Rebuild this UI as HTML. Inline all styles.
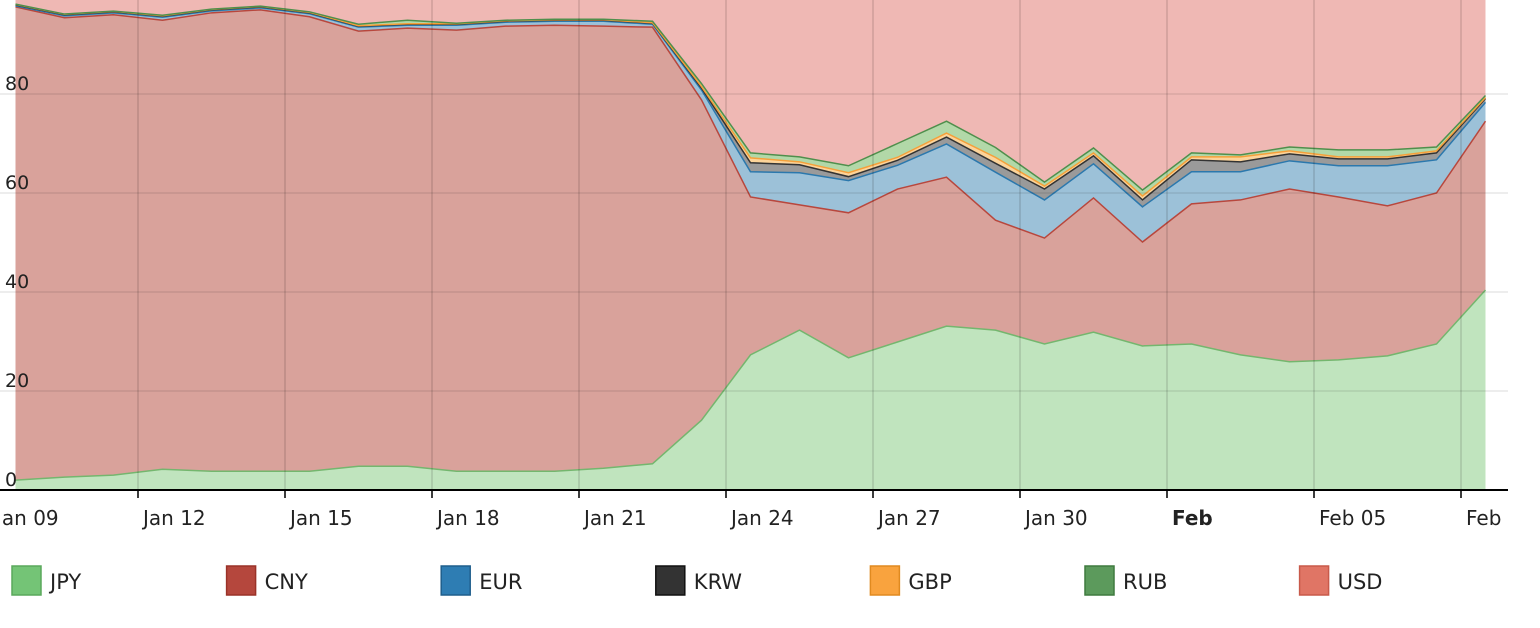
<!DOCTYPE html>
<html><head><meta charset="utf-8"><style>
body{margin:0;background:#fff;width:1540px;height:624px;overflow:hidden;font-family:"DejaVu Sans",sans-serif}
svg text{font-family:"DejaVu Sans","Liberation Sans",sans-serif}
</style></head><body>
<svg id="chart" width="1540" height="624" viewBox="0 0 1540 624">
<defs><clipPath id="lblclip"><rect x="0" y="0" width="1508" height="624"/></clipPath></defs>
</svg>
<script>
const categories = ["Jan 09","Jan 10","Jan 11","Jan 12","Jan 13","Jan 14","Jan 15","Jan 16","Jan 17","Jan 18","Jan 19","Jan 20","Jan 21","Jan 22","Jan 23","Jan 24","Jan 25","Jan 26","Jan 27","Jan 28","Jan 29","Jan 30","Jan 31","Feb 01","Feb 02","Feb 03","Feb 04","Feb 05","Feb 06","Feb 07","Feb 08"];
const jpy = [2.0,2.6,3.0,4.2,3.8,3.8,3.8,4.8,4.8,3.8,3.8,3.8,4.4,5.3,14.1,27.3,32.3,26.7,29.9,33.1,32.3,29.5,31.9,29.1,29.5,27.3,25.9,26.3,27.1,29.5,40.4];
const cny = [95.6,92.8,93.0,90.7,92.6,93.2,91.8,87.9,88.5,89.1,89.9,90.1,89.3,88.2,64.7,31.9,25.3,29.3,30.9,30.1,22.2,21.4,27.1,21.0,28.3,31.3,34.9,32.9,30.3,30.5,34.1];
const eur = [0.2,0.4,0.4,0.6,0.4,0.4,0.6,0.8,0.6,1.0,0.8,0.8,1.0,0.6,2.0,5.1,6.5,6.5,4.8,6.7,9.7,7.7,6.9,7.1,6.5,5.7,5.7,6.3,8.1,6.7,3.8];
const krw = [0.2,0.2,0.2,0.2,0.2,0.2,0.2,0.2,0.2,0.2,0.2,0.2,0.2,0.2,0.4,1.8,1.6,0.8,1.0,1.4,1.8,2.2,1.6,1.4,2.4,2.0,1.4,1.4,1.4,1.4,0.8];
const gbp = [0.1,0.1,0.1,0.1,0.1,0.1,0.1,0.1,0.1,0.1,0.1,0.1,0.1,0.1,0.3,1.0,0.6,0.8,0.6,0.8,1.2,0.6,0.6,0.8,0.6,1.0,0.6,0.4,0.4,0.4,0.2];
const rub = [0.05,0.05,0.05,0.1,0.05,0.05,0.1,0.3,0.7,0.1,0.1,0.1,0.1,0.3,0.6,1.0,1.0,1.4,2.8,2.4,2.0,0.8,1.0,1.2,0.8,0.4,0.8,1.4,1.4,0.8,0.4];
const seriesNames = ["JPY","CNY","EUR","KRW","GBP","RUB","USD"];
const yTicks = [0,20,40,60,80];
const xTickLabels = ["Jan 09","Jan 12","Jan 15","Jan 18","Jan 21","Jan 24","Jan 27","Jan 30","Feb","Feb 05","Feb 08"];
const xTickDays = [0,3,6,9,12,15,18,21,24,27,30];

const NS="http://www.w3.org/2000/svg";
const svg=document.getElementById('chart');
const fills=["#c0e4be","#d9a29b","#9cc1d8","#9a9a9a","#fcd49a","#b2d8a8","#efb8b4"];
const strokes=["#74b66e","#b8473d","#2b78ad","#333333","#f5a03a","#4f8f4c","#efb8b4"];
const pxPerDay=49, x0=-9;
function xDay(d){return x0+d*pxPerDay;}
function xPt(i){return x0+(i+0.5)*pxPerDay;}
function yv(v){return 490-v*4.95;}
function mk(tag,attrs){const e=document.createElementNS(NS,tag);for(const k in attrs)e.setAttribute(k,attrs[k]);svg.appendChild(e);return e;}

const data=[jpy,cny,eur,krw,gbp,rub];
let base=categories.map(()=>0);
const layers=[];
data.forEach(s=>{const top=base.map((b,i)=>b+s[i]);layers.push([base,top]);base=top;});
layers.push([base,categories.map(()=>101)]);
layers.forEach((L,k)=>{
  const [lo,hi]=L;
  let d="M"+hi.map((v,i)=>xPt(i)+","+yv(v)).join(" L");
  for(let i=lo.length-1;i>=0;i--) d+=" L"+xPt(i)+","+yv(lo[i]);
  d+=" Z";
  const p=mk('path',{d:d,fill:fills[k],stroke:'none'});
  
  
});
layers.slice(0,6).forEach((L,k)=>{
  const p=mk('path',{d:"M"+L[1].map((v,i)=>xPt(i)+","+yv(v)).join(" L"),fill:'none',stroke:strokes[k],'stroke-width':1.5});
  
  
});
yTicks.forEach(t=>{
  if(t>0){const g=mk('line',{x1:0,x2:1508,y1:yv(t),y2:yv(t),stroke:'rgba(0,0,0,0.07)','stroke-width':2});
  
  }
  const tx=mk('text',{x:5,y:yv(t)-4,'font-size':19,fill:'#222'});tx.textContent=t;
  
  
});
xTickDays.forEach((d,j)=>{
  const x=xDay(d);
  const g=mk('line',{x1:x,x2:x,y1:0,y2:498,stroke:'rgba(0,0,0,0.14)','stroke-width':1.5});
  
  
  const tk=mk('line',{x1:x,x2:x,y1:490,y2:498,stroke:'#000','stroke-width':1.5});
  
  
  const tx=mk('text',{x:x+5,y:525,'font-size':20,fill:'#222','clip-path':'url(#lblclip)','font-weight':xTickLabels[j]==='Feb'?'bold':'normal'});
  tx.textContent=xTickLabels[j];
  
  
});
const ax=mk('line',{x1:0,x2:1508,y1:490,y2:490,stroke:'#000','stroke-width':2});


seriesNames.forEach((n,k)=>{
  const lx=12+k*214.6;
  const r=mk('rect',{x:lx,y:566,width:29,height:29,fill:['#74c476','#b5473d','#2e7db3','#333','#f9a33e','#5c9a5c','#e07565'][k],stroke:['#5aa85c','#9a3228','#1f5f8c','#111','#e08a20','#3f7a3f','#c85a4a'][k],'stroke-width':1.5});
  
  
  const t=mk('text',{x:lx+38,y:589,'font-size':21,fill:'#222'});t.textContent=n;
  
  
});
</script>
</body></html>
